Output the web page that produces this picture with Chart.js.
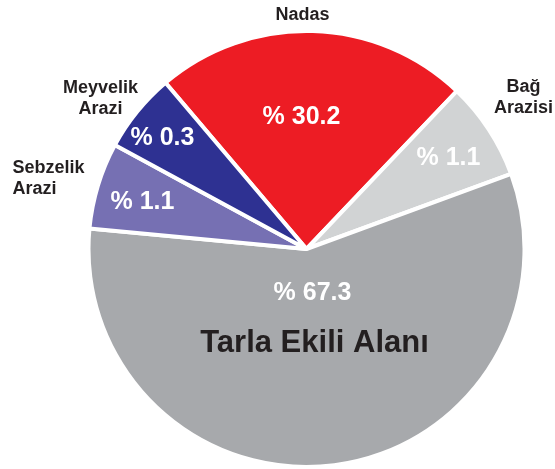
<!DOCTYPE html>
<html>
<head>
<meta charset="utf-8">
<script src="https://cdn.jsdelivr.net/npm/chart.js@4"></script>
<style>
  html, body { margin: 0; padding: 0; background: #fff; }
  canvas { display: block; }
</style>
</head>
<body>
<canvas id="pie" width="555" height="469"></canvas>
<script>
// categories, clockwise from the top
const categories = ['Nadas', 'Bağ Arazisi', 'Tarla Ekili Alanı', 'Sebzelik Arazi', 'Meyvelik Arazi'];
// percentages printed on the slices
const printedShares = [30.2, 1.1, 67.3, 1.1, 0.3];
// slice sizes as drawn in the picture (the drawing is not to scale)
const drawnShares = [23.3, 7.3, 57.1, 6.4, 5.9];

const colors = ['#ED1C24', '#D1D3D4', '#A7A9AC', '#7670B3', '#2E3192'];

// label placement, offsets from the pie centre
const innerOffset = [[-5, -132], [142, -91], [6, 44], [-164, -47], [-144, -111]];
const outerOffset = [[-4, -234], [217, -151], [8, 94], [-258, -70], [-206, -150]];
const outerLines = [['Nadas'], ['Bağ', 'Arazisi'], null, ['Sebzelik', 'Arazi'], ['Meyvelik', 'Arazi']];
const outerAlign = ['center', 'center', 'center', 'left', 'center'];

const FONT = '"Liberation Sans", Arial, sans-serif';

const labelPlugin = {
    id: 'sliceLabels',
    afterDatasetsDraw(chart) {
        const ctx = chart.ctx;
        const arcs = chart.getDatasetMeta(0).data;
        ctx.save();
        ctx.textBaseline = 'middle';
        arcs.forEach((arc, i) => {
            // value label inside slice
            ctx.fillStyle = '#fff';
            ctx.textAlign = 'center';
            ctx.font = 'bold 25px ' + FONT;
            ctx.fillText('% ' + printedShares[i].toFixed(1), arc.x + innerOffset[i][0], arc.y + innerOffset[i][1]);

            const cx = arc.x + outerOffset[i][0];
            const cy = arc.y + outerOffset[i][1];
            ctx.fillStyle = '#231F20';
            if (outerLines[i] === null) {
                // big name inside the main slice
                ctx.font = 'bold 31px ' + FONT;
                ctx.fillText(categories[i], cx, cy);
                return;
            }
            const lines = outerLines[i];
            ctx.font = 'bold 18px ' + FONT;
            const maxW = Math.max(...lines.map(l => ctx.measureText(l).width));
            const lh = 21;
            const y0 = cy - (lines.length - 1) * lh / 2;
            lines.forEach((line, k) => {
                if (outerAlign[i] === 'left') {
                    ctx.textAlign = 'left';
                    ctx.fillText(line, cx - maxW / 2, y0 + k * lh);
                } else {
                    ctx.textAlign = 'center';
                    ctx.fillText(line, cx, y0 + k * lh);
                }
            });
        });
        ctx.restore();
    }
};

new Chart(document.getElementById('pie'), {
    type: 'pie',
    data: {
        labels: categories,
        datasets: [{
            data: drawnShares,
            backgroundColor: colors,
            borderColor: '#fff',
            borderWidth: 4
        }]
    },
    options: {
        responsive: false,
        animation: false,
        rotation: -40.3,
        layout: { padding: { top: 29, bottom: 0, left: 58, right: 0 } },
        plugins: {
            legend: { display: false },
            tooltip: { enabled: false }
        }
    },
    plugins: [labelPlugin]
});
</script>
</body>
</html>
